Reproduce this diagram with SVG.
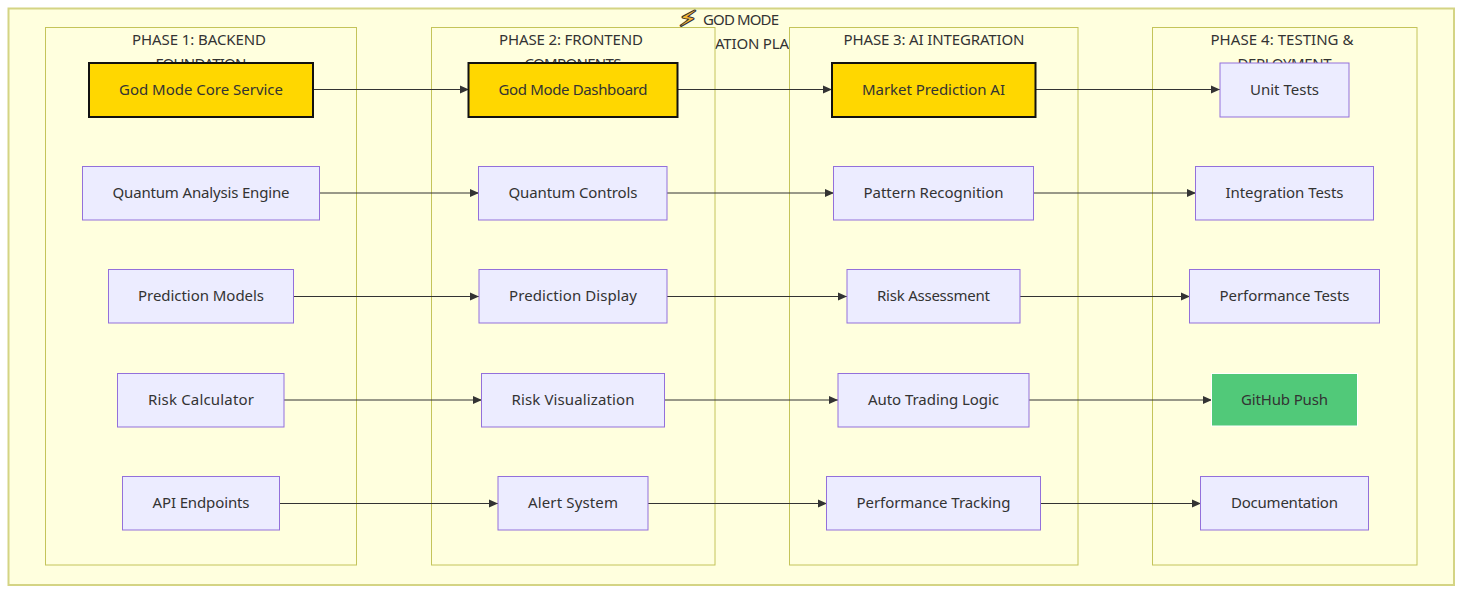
<svg xmlns="http://www.w3.org/2000/svg" width="1470" height="596" viewBox="0 0 1470 596">
<style>
text{font-family:"Noto Sans","Open Sans","DejaVu Sans",sans-serif;font-size:15px;fill:#333;text-anchor:middle}
.cluster{fill:#ffffde;stroke:#c4c45a;stroke-width:1}
.outer{fill:#ffffde;stroke:#d4d484;stroke-width:2}
.n{fill:#ececff;stroke:#9370db;stroke-width:1}
.g{fill:#ffd700;stroke:#111;stroke-width:2}
.p{fill:#51c979;stroke:#fff;stroke-width:1}
.e{fill:none;stroke:#333;stroke-width:1;marker-end:url(#a)}
</style>
<defs><marker id="a" markerUnits="userSpaceOnUse" markerWidth="10" markerHeight="10" refX="9" refY="5" orient="auto"><path d="M0 1L9 5L0 9Z" fill="#333"/></marker></defs>
<rect class="outer" x="8.5" y="8.5" width="1445.5" height="576.5"/>
<g id="title">
<text transform="translate(688 26) scale(1.25 1)" style="font-family:'DejaVu Sans',sans-serif;font-size:21px;fill:#f7b733;stroke:#333;stroke-width:2;paint-order:stroke;stroke-linejoin:round">⚡</text>
<text x="741" y="25" textLength="76" lengthAdjust="spacing">GOD MODE</text>
<text x="752" y="49" textLength="74" lengthAdjust="spacing">ATION PLA</text>
</g>
<g id="phase1"><rect class="cluster" x="45.5" y="27.5" width="311" height="537.5"/><text x="199" y="45" textLength="134" lengthAdjust="spacing">PHASE 1: BACKEND</text><text x="201" y="69" textLength="91" lengthAdjust="spacing">FOUNDATION</text></g>
<g id="phase2"><rect class="cluster" x="431.5" y="27.5" width="283.5" height="537.5"/><text x="571" y="45" textLength="144" lengthAdjust="spacing">PHASE 2: FRONTEND</text><text x="573" y="69" textLength="97" lengthAdjust="spacing">COMPONENTS</text></g>
<g id="phase3"><rect class="cluster" x="789.5" y="27.5" width="288.5" height="537.5"/><text x="934" y="45" textLength="181" lengthAdjust="spacing">PHASE 3: AI INTEGRATION</text></g>
<g id="phase4"><rect class="cluster" x="1152.5" y="27.5" width="264.5" height="537.5"/><text x="1282" y="45" textLength="143" lengthAdjust="spacing">PHASE 4: TESTING &amp;</text><text x="1284.5" y="69" textLength="94" lengthAdjust="spacing">DEPLOYMENT</text></g>
<g id="connectors">
<path class="e" d="M314 89.500H469"/><path class="e" d="M678 89.500H832"/><path class="e" d="M1036 89.500H1220"/>
<path class="e" d="M320 193H479"/><path class="e" d="M667 193H834"/><path class="e" d="M1034 193H1196"/>
<path class="e" d="M294 296.500H479"/><path class="e" d="M667 296.500H847"/><path class="e" d="M1020 296.500H1190"/>
<path class="e" d="M284 400H482"/><path class="e" d="M665 400H838"/><path class="e" d="M1029 400H1212"/>
<path class="e" d="M280 503.500H498"/><path class="e" d="M648 503.500H827"/><path class="e" d="M1041 503.500H1201"/>
</g>
<g id="core"><rect class="g" x="89" y="63" width="224" height="54"/><text x="201" y="95" textLength="164" lengthAdjust="spacing">God Mode Core Service</text></g>
<g id="quantum"><rect class="n" x="82.500" y="166.500" width="237" height="53.500"/><text x="201" y="198" textLength="177" lengthAdjust="spacing">Quantum Analysis Engine</text></g>
<g id="models"><rect class="n" x="108.500" y="269.500" width="185" height="53.500"/><text x="201" y="301" textLength="126" lengthAdjust="spacing">Prediction Models</text></g>
<g id="risk"><rect class="n" x="117.500" y="373.500" width="166.500" height="53.500"/><text x="201" y="405" textLength="106" lengthAdjust="spacing">Risk Calculator</text></g>
<g id="api"><rect class="n" x="122.500" y="476.500" width="157" height="53.500"/><text x="201" y="508" textLength="97" lengthAdjust="spacing">API Endpoints</text></g>
<g id="dash"><rect class="g" x="468.500" y="63" width="209" height="54"/><text x="573" y="95" textLength="149" lengthAdjust="spacing">God Mode Dashboard</text></g>
<g id="qc"><rect class="n" x="478.500" y="166.500" width="188.500" height="53.500"/><text x="573" y="198" textLength="129" lengthAdjust="spacing">Quantum Controls</text></g>
<g id="pd"><rect class="n" x="479" y="269.500" width="188" height="53.500"/><text x="573" y="301" textLength="128" lengthAdjust="spacing">Prediction Display</text></g>
<g id="rv"><rect class="n" x="481.500" y="373.500" width="183" height="53.500"/><text x="573" y="405" textLength="123" lengthAdjust="spacing">Risk Visualization</text></g>
<g id="alert"><rect class="n" x="498" y="476.500" width="150" height="53.500"/><text x="573" y="508" textLength="90" lengthAdjust="spacing">Alert System</text></g>
<g id="market"><rect class="g" x="832" y="63" width="203.500" height="54"/><text x="933.500" y="95" textLength="143" lengthAdjust="spacing">Market Prediction AI</text></g>
<g id="pattern"><rect class="n" x="833.500" y="166.500" width="200" height="53.500"/><text x="933.500" y="198" textLength="140" lengthAdjust="spacing">Pattern Recognition</text></g>
<g id="ra"><rect class="n" x="847" y="269.500" width="173" height="53.500"/><text x="933.500" y="301" textLength="113" lengthAdjust="spacing">Risk Assessment</text></g>
<g id="auto"><rect class="n" x="838" y="373.500" width="191" height="53.500"/><text x="933.500" y="405" textLength="131" lengthAdjust="spacing">Auto Trading Logic</text></g>
<g id="perf"><rect class="n" x="826.500" y="476.500" width="214" height="53.500"/><text x="933.500" y="508" textLength="154" lengthAdjust="spacing">Performance Tracking</text></g>
<g id="unit"><rect class="n" x="1220" y="63" width="129" height="54"/><text x="1284.500" y="95" textLength="69" lengthAdjust="spacing">Unit Tests</text></g>
<g id="integ"><rect class="n" x="1195.500" y="166.500" width="178" height="53.500"/><text x="1284.500" y="198" textLength="118" lengthAdjust="spacing">Integration Tests</text></g>
<g id="ptests"><rect class="n" x="1189.500" y="269.500" width="190" height="53.500"/><text x="1284.500" y="301" textLength="130" lengthAdjust="spacing">Performance Tests</text></g>
<g id="github"><rect class="p" x="1211.500" y="373.500" width="146" height="52.500"/><text x="1284.500" y="405" textLength="87" lengthAdjust="spacing">GitHub Push</text></g>
<g id="docs"><rect class="n" x="1200.500" y="476.500" width="168" height="53.500"/><text x="1284.500" y="508" textLength="107" lengthAdjust="spacing">Documentation</text></g>
</svg>
